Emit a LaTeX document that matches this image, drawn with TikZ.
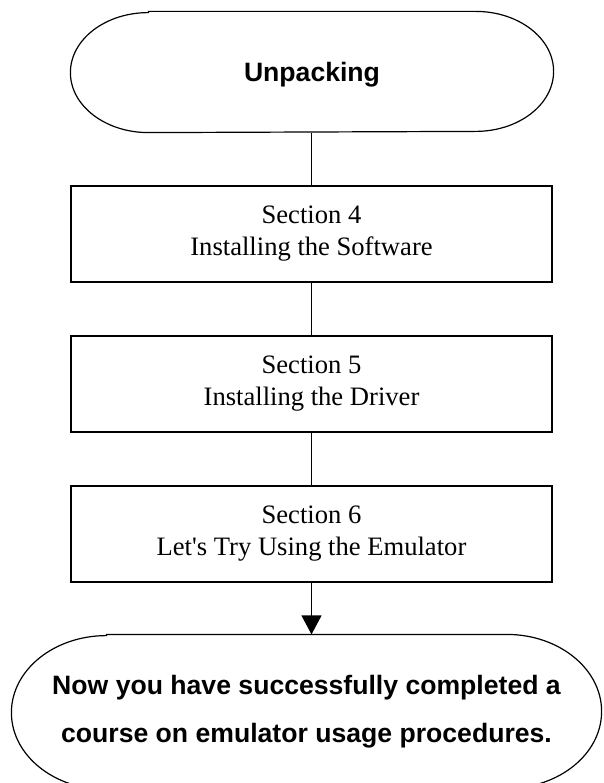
\documentclass[tikz,border=0pt]{standalone}
\usepackage{fontspec}
\setmainfont{Liberation Serif}[Ligatures=TeXOff]
\setsansfont{Liberation Sans}
\usetikzlibrary{arrows.meta}
\begin{document}
\begin{tikzpicture}[x=1pt,y=-1pt,
  line width=1.2pt,
  stepbox/.style={draw, inner sep=0pt, minimum width=481pt, minimum height=96pt,
    align=center, font=\fontsize{26.6}{32}\selectfont},
  termnode/.style={inner sep=0pt, align=center, font=\sffamily\bfseries\fontsize{26.6}{48}\selectfont},
  conn/.style={draw},
  arr/.style={-{Triangle[length=19pt,width=20pt]}}]
\useasboundingbox (0,0) rectangle (603,783);
% start terminal
\node[termnode, minimum width=482pt, minimum height=120pt, text depth=0pt] (start) at (312,72) {Unpacking};
\draw ([xshift=78pt]start.north west) -- ([xshift=-78pt]start.north east)
  arc[start angle=90, end angle=-90, x radius=78pt, y radius=60pt]
  -- ([xshift=78pt]start.south west)
  arc[start angle=270, end angle=90, x radius=78pt, y radius=60pt] -- cycle;
% steps
\node[stepbox] (s4) at (311.5,234) {Section 4\\Installing the Software};
\node[stepbox] (s5) at (311.5,384) {Section 5\\Installing the Driver};
\node[stepbox] (s6) at (311.5,534) {Section 6\\Let's Try Using the Emulator};
% end terminal
\node[termnode, minimum width=589pt, minimum height=154pt] (end) at (306.5,712)
  {Now you have successfully completed a\\course on emulator usage procedures.};
\draw ([xshift=95pt]end.north west) -- ([xshift=-95pt]end.north east)
  arc[start angle=90, end angle=-90, x radius=95pt, y radius=77pt]
  -- ([xshift=95pt]end.south west)
  arc[start angle=270, end angle=90, x radius=95pt, y radius=77pt] -- cycle;
% connectors
\draw[conn] (start.south -| s4.north) -- (s4.north);
\draw[conn] (s4) -- (s5);
\draw[conn] (s5) -- (s6);
\draw[conn, arr] (s6.south) -- (s6.south |- end.north);
\end{tikzpicture}
\end{document}
